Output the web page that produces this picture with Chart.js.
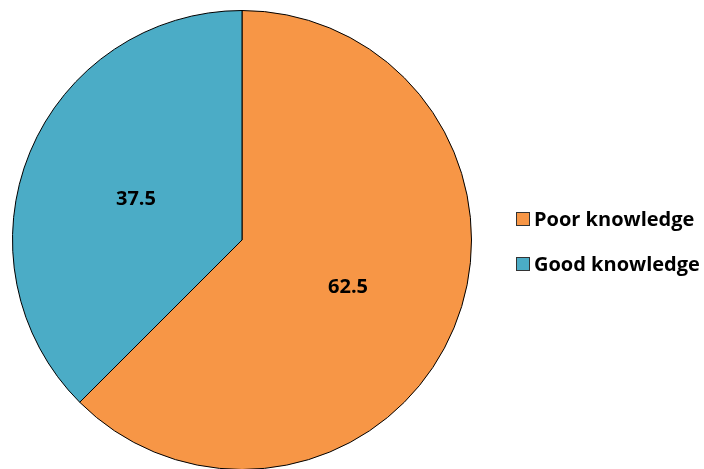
<!DOCTYPE html>
<html>
<head>
<meta charset="utf-8">
<script src="https://cdn.jsdelivr.net/npm/chart.js@4.4.0/dist/chart.umd.min.js"></script>
<style>
  html, body { margin: 0; padding: 0; background: #fff; overflow: hidden; }
  #wrap { width: 704px; height: 480px; position: relative; }
</style>
</head>
<body>
<div id="wrap"><canvas id="chart" width="704" height="480"></canvas></div>
<script>
const categories = ["Poor knowledge", "Good knowledge"];
const values = [62.5, 37.5];
const colors = ["#F79646", "#4BACC6"];

const FONT = "bold 20px 'Open Sans', sans-serif";

// value labels inside slices
const valueLabels = {
  id: "valueLabels",
  afterDatasetsDraw(chart) {
    const ctx = chart.ctx;
    const meta = chart.getDatasetMeta(0);
    ctx.save();
    ctx.font = FONT;
    ctx.fillStyle = "#000";
    ctx.textAlign = "center";
    ctx.textBaseline = "middle";
    meta.data.forEach((arc, i) => {
      const p = arc.tooltipPosition();
      ctx.fillText(values[i].toFixed(1), p.x, p.y + 3);
    });
    ctx.restore();
  }
};

// legend on the right
const sideLegend = {
  id: "sideLegend",
  afterDraw(chart) {
    const ctx = chart.ctx;
    ctx.save();
    ctx.font = FONT;
    ctx.textBaseline = "middle";
    categories.forEach((name, i) => {
      const y = 219 + i * 45;
      ctx.fillStyle = colors[i];
      ctx.fillRect(516, y - 7, 14, 14);
      ctx.strokeStyle = "#333";
      ctx.lineWidth = 1;
      ctx.strokeRect(516.5, y - 6.5, 13, 13);
      ctx.fillStyle = "#000";
      ctx.fillText(name, 534, y + 1);
    });
    ctx.restore();
  }
};

new Chart(document.getElementById("chart"), {
  type: "pie",
  data: {
    labels: categories,
    datasets: [{
      data: values,
      backgroundColor: colors,
      borderColor: "#000",
      borderWidth: 1
    }]
  },
  options: {
    responsive: false,
    animation: false,
    layout: { padding: { left: 12, top: 10, right: 232, bottom: 10 } },
    plugins: {
      legend: { display: false },
      tooltip: { enabled: false }
    }
  },
  plugins: [valueLabels, sideLegend]
});
</script>
</body>
</html>
